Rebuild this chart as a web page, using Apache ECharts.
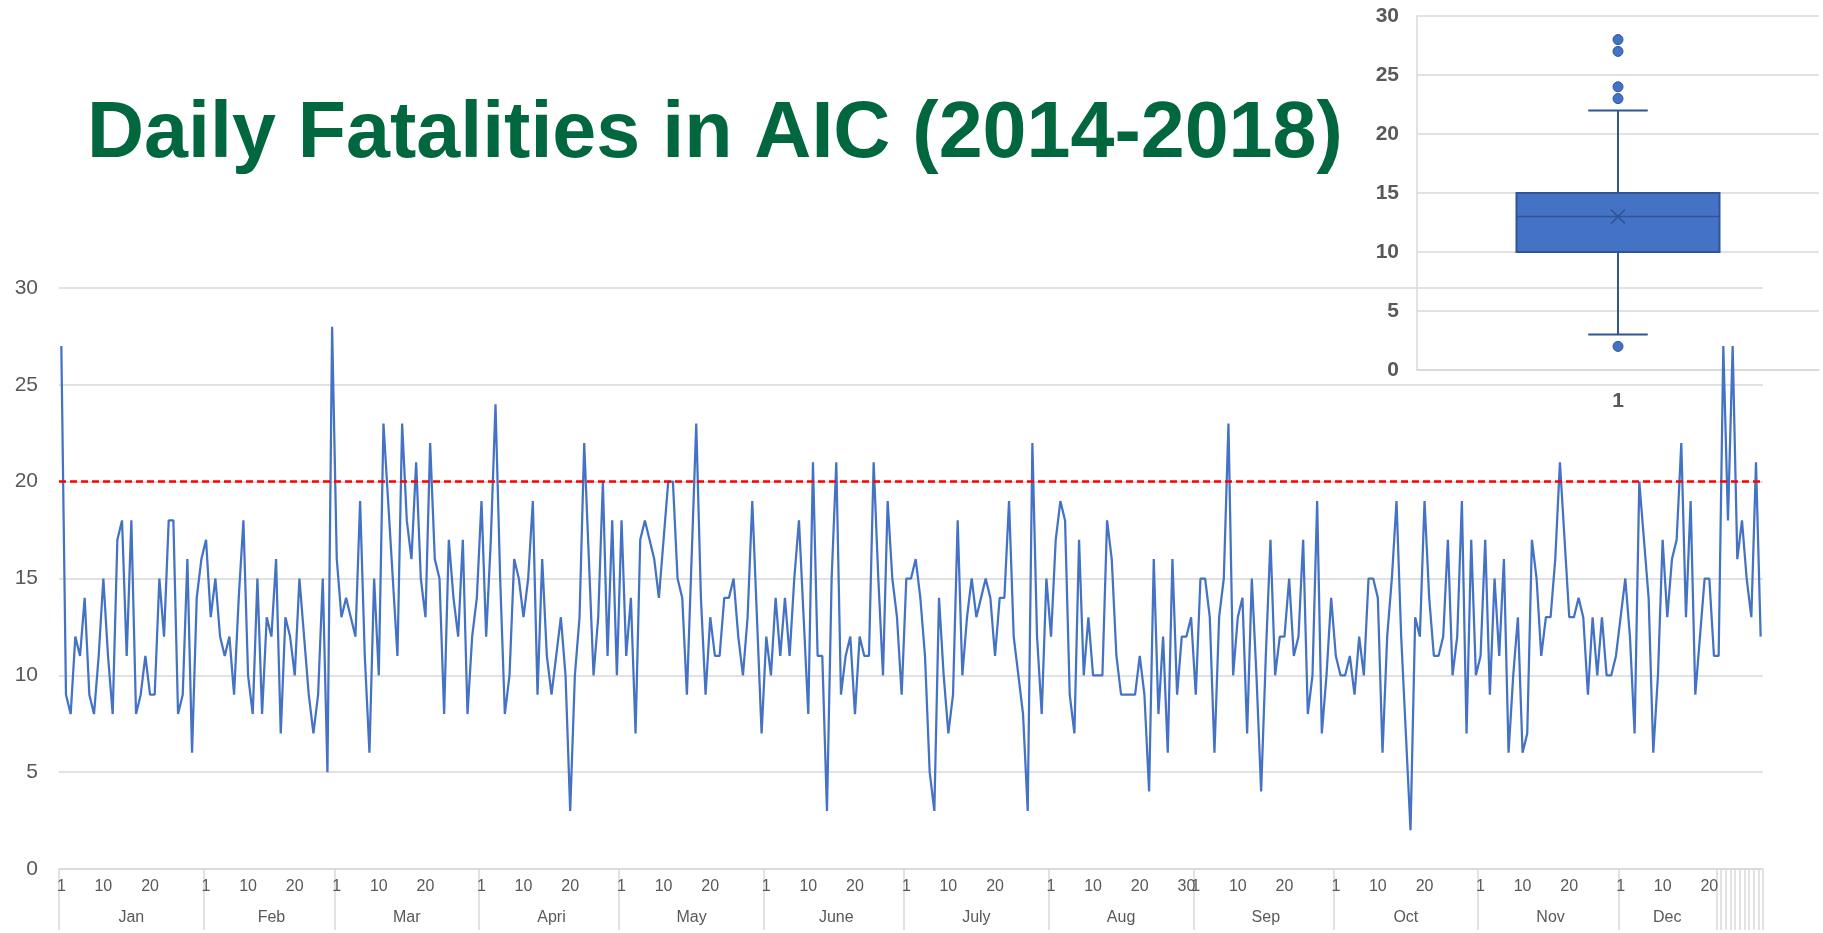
<!DOCTYPE html>
<html>
<head>
<meta charset="utf-8">
<script src="https://cdn.jsdelivr.net/npm/echarts/dist/echarts.min.js"></script>
<style>
  html, body { margin: 0; padding: 0; background: #fff; }
  #chart { width: 1823px; height: 933px; }
</style>
</head>
<body>
<div id="chart"></div>
<script>
// daily fatalities, one array per month
const jan = [27, 9, 8, 12, 11, 14, 9, 8, 11, 15, 11, 8, 17, 18, 11, 18, 8, 9, 11, 9, 9, 15, 12, 18, 18, 8, 9, 16, 6, 14, 16]
const feb = [17, 13, 15, 12, 11, 12, 9, 14, 18, 10, 8, 15, 8, 13, 12, 16, 7, 13, 12, 10, 15, 12, 9, 7, 9, 15, 5, 28]
const mar = [16, 13, 14, 13, 12, 19, 11, 6, 15, 10, 23, 19, 15, 11, 23, 18, 16, 21, 15, 13, 22, 16, 15, 8, 17, 14, 12, 17, 8, 12, 14]
const apr = [19, 12, 17, 24, 15, 8, 10, 16, 15, 13, 15, 19, 9, 16, 11, 9, 11, 13, 10, 3, 10, 13, 22, 16, 10, 13, 20, 11, 18, 10]
const may = [18, 11, 14, 7, 17, 18, 17, 16, 14, 17, 20, 20, 15, 14, 9, 16, 23, 14, 9, 13, 11, 11, 14, 14, 15, 12, 10, 13, 19, 13, 7]
const jun = [12, 10, 14, 11, 14, 11, 15, 18, 13, 8, 21, 11, 11, 3, 15, 21, 9, 11, 12, 8, 12, 11, 11, 21, 15, 10, 19, 15, 13, 9]
const jul = [15, 15, 16, 14, 11, 5, 3, 14, 10, 7, 9, 18, 10, 13, 15, 13, 14, 15, 14, 11, 14, 14, 19, 12, 10, 8, 3, 22, 12, 8, 15]
const aug = [12, 17, 19, 18, 9, 7, 17, 10, 13, 10, 10, 10, 18, 16, 11, 9, 9, 9, 9, 11, 9, 4, 16, 8, 12, 6, 16, 9, 12, 12, 13]
const sep = [9, 15, 15, 13, 6, 13, 15, 23, 10, 13, 14, 7, 15, 10, 4, 11, 17, 10, 12, 12, 15, 11, 12, 17, 8, 10, 19, 7, 10, 14]
const oct = [11, 10, 10, 11, 9, 12, 10, 15, 15, 14, 6, 12, 15, 19, 12, 7, 2, 13, 12, 19, 14, 11, 11, 12, 17, 10, 12, 19, 7, 17, 10]
const nov = [11, 17, 9, 15, 11, 16, 6, 10, 13, 6, 7, 17, 15, 11, 13, 13, 16, 21, 17, 13, 13, 14, 13, 9, 13, 10, 13, 10, 10, 11]
const dec = [13, 15, 12, 7, 20, 17, 14, 6, 10, 17, 13, 16, 17, 22, 13, 19, 9, 12, 15, 15, 11, 11, 27, 18, 27, 16, 18, 15, 13, 21, 12]

const monthNames = ['Jan', 'Feb', 'Mar', 'Apri', 'May', 'June', 'July', 'Aug', 'Sep', 'Oct', 'Nov', 'Dec']
// day of month under which the month name sits
const monthLabelDay = [16, 15, 16, 16, 16, 16, 16, 16, 16, 16, 16, 11]
const dayLabels = [1, 10, 20]
const extraDayLabels = { 7: 30 } // Aug also shows 30
const denseTickFrom = 355 // Dec: every day gets a tick from here

const threshold = 20

// box plot (inset)
const boxStats = [3, 10, 13, 15, 22] // low whisker, Q1, median, Q3, high whisker
const boxMean = 13
const outliers = [2, 23, 24, 27, 28]

// build category axis
const months = [jan, feb, mar, apr, may, jun, jul, aug, sep, oct, nov, dec]
const days = []
const values = []
const labels = {}
const monthStart = []
months.forEach((m, mi) => {
  monthStart.push(days.length)
  m.forEach((v, di) => {
    const idx = days.length
    const dm = di + 1
    days.push(monthNames[mi] + ' ' + dm)
    values.push(v)
    if (dayLabels.includes(dm) || extraDayLabels[mi] === dm) labels[idx] = String(dm)
    if (monthLabelDay[mi] === dm) labels[idx] = '\n' + monthNames[mi]
  })
})

const gray = '#d9d9d9'
const textGray = '#595959'
const font = '"Liberation Sans", Arial, sans-serif'

const chart = echarts.init(document.getElementById('chart'))

const option = {
  animation: false,
  backgroundColor: '#fff',
  graphic: [
    {
      type: 'text',
      x: 87,
      y: 135,
      style: {
        text: 'Daily Fatalities in AIC (2014-2018)',
        font: 'bold 79px "Liberation Sans", Arial, sans-serif',
        fill: '#00673f',
        align: 'left',
        verticalAlign: 'middle'
      }
    }
  ],
  grid: [
    { left: 59, right: 60, top: 288, bottom: 61 },
    { left: 1417, right: 4, top: 16, height: 354 }
  ],
  xAxis: [
    {
      type: 'category',
      gridIndex: 0,
      data: days,
      boundaryGap: true,
      axisLine: { lineStyle: { color: gray, width: 1.5 } },
      axisTick: {
        show: true,
        interval: (i) => monthStart.includes(i) || i >= denseTickFrom,
        length: 61,
        lineStyle: { color: gray, width: 1.5 }
      },
      axisLabel: {
        interval: (i) => labels[i] !== undefined,
        formatter: (v, i) => labels[i] || '',
        color: textGray,
        fontSize: 16,
        fontFamily: font,
        lineHeight: 31,
        margin: 2
      },
      splitLine: { show: false }
    },
    {
      type: 'category',
      gridIndex: 1,
      data: ['1'],
      axisLine: { lineStyle: { color: gray, width: 1.5 } },
      axisTick: { show: false },
      axisLabel: { color: textGray, fontSize: 21, fontWeight: 'bold', fontFamily: font, margin: 21 }
    }
  ],
  yAxis: [
    {
      type: 'value',
      gridIndex: 0,
      min: 0,
      max: 30,
      interval: 5,
      axisLine: { show: false },
      axisTick: { show: false },
      axisLabel: { color: textGray, fontSize: 21, fontFamily: font, margin: 21 },
      splitLine: { lineStyle: { color: gray, width: 1.5 } }
    },
    {
      type: 'value',
      gridIndex: 1,
      min: 0,
      max: 30,
      interval: 5,
      axisLine: { show: true, lineStyle: { color: gray, width: 1.5 } },
      axisTick: { show: false },
      axisLabel: { color: textGray, fontSize: 21, fontWeight: 'bold', fontFamily: font, margin: 18 },
      splitLine: { lineStyle: { color: gray, width: 1.5 } }
    }
  ],
  series: [
    {
      name: 'Fatalities',
      type: 'line',
      xAxisIndex: 0,
      yAxisIndex: 0,
      data: values,
      symbol: 'none',
      lineStyle: { color: '#4472c4', width: 2.25 },
      markLine: {
        silent: true,
        symbol: 'none',
        label: { show: false },
        lineStyle: { color: '#ff0000', type: [7, 4], width: 2.5 },
        data: [{ yAxis: threshold }]
      }
    },
    {
      name: 'Box',
      type: 'custom',
      xAxisIndex: 1,
      yAxisIndex: 1,
      data: [[0, ...boxStats, boxMean]],
      encode: { x: 0, y: [1, 2, 3, 4, 5, 6] },
      renderItem: (params, api) => {
        const band = api.size([1, 0])[0]
        const cx = api.coord([api.value(0), 0])[0]
        const y = (k) => api.coord([api.value(0), api.value(k)])[1]
        const half = band * 0.2525
        const cap = band * 0.074
        const lo = y(1), q1 = y(2), med = y(3), q3 = y(4), hi = y(5), mean = y(6)
        const stroke = { stroke: '#2f5597', lineWidth: 2 }
        const thin = { stroke: '#2f5597', lineWidth: 1.5 }
        const m = 7
        return {
          type: 'group',
          children: [
            { type: 'line', shape: { x1: cx, y1: hi, x2: cx, y2: q3 }, style: stroke },
            { type: 'line', shape: { x1: cx, y1: q1, x2: cx, y2: lo }, style: stroke },
            { type: 'line', shape: { x1: cx - cap, y1: hi, x2: cx + cap, y2: hi }, style: stroke },
            { type: 'line', shape: { x1: cx - cap, y1: lo, x2: cx + cap, y2: lo }, style: stroke },
            {
              type: 'rect',
              shape: { x: cx - half, y: q3, width: half * 2, height: q1 - q3 },
              style: { fill: '#4472c4', stroke: '#2f5597', lineWidth: 2 }
            },
            { type: 'line', shape: { x1: cx - half, y1: med, x2: cx + half, y2: med }, style: thin },
            { type: 'line', shape: { x1: cx - m, y1: mean - m, x2: cx + m, y2: mean + m }, style: thin },
            { type: 'line', shape: { x1: cx - m, y1: mean + m, x2: cx + m, y2: mean - m }, style: thin }
          ]
        }
      }
    },
    {
      name: 'Outliers',
      type: 'scatter',
      xAxisIndex: 1,
      yAxisIndex: 1,
      data: outliers.map((v) => [0, v]),
      symbol: 'circle',
      symbolSize: 10,
      itemStyle: { color: '#4472c4', borderColor: '#2f5597', borderWidth: 1, opacity: 1 }
    }
  ]
}

chart.setOption(option)
</script>
</body>
</html>
